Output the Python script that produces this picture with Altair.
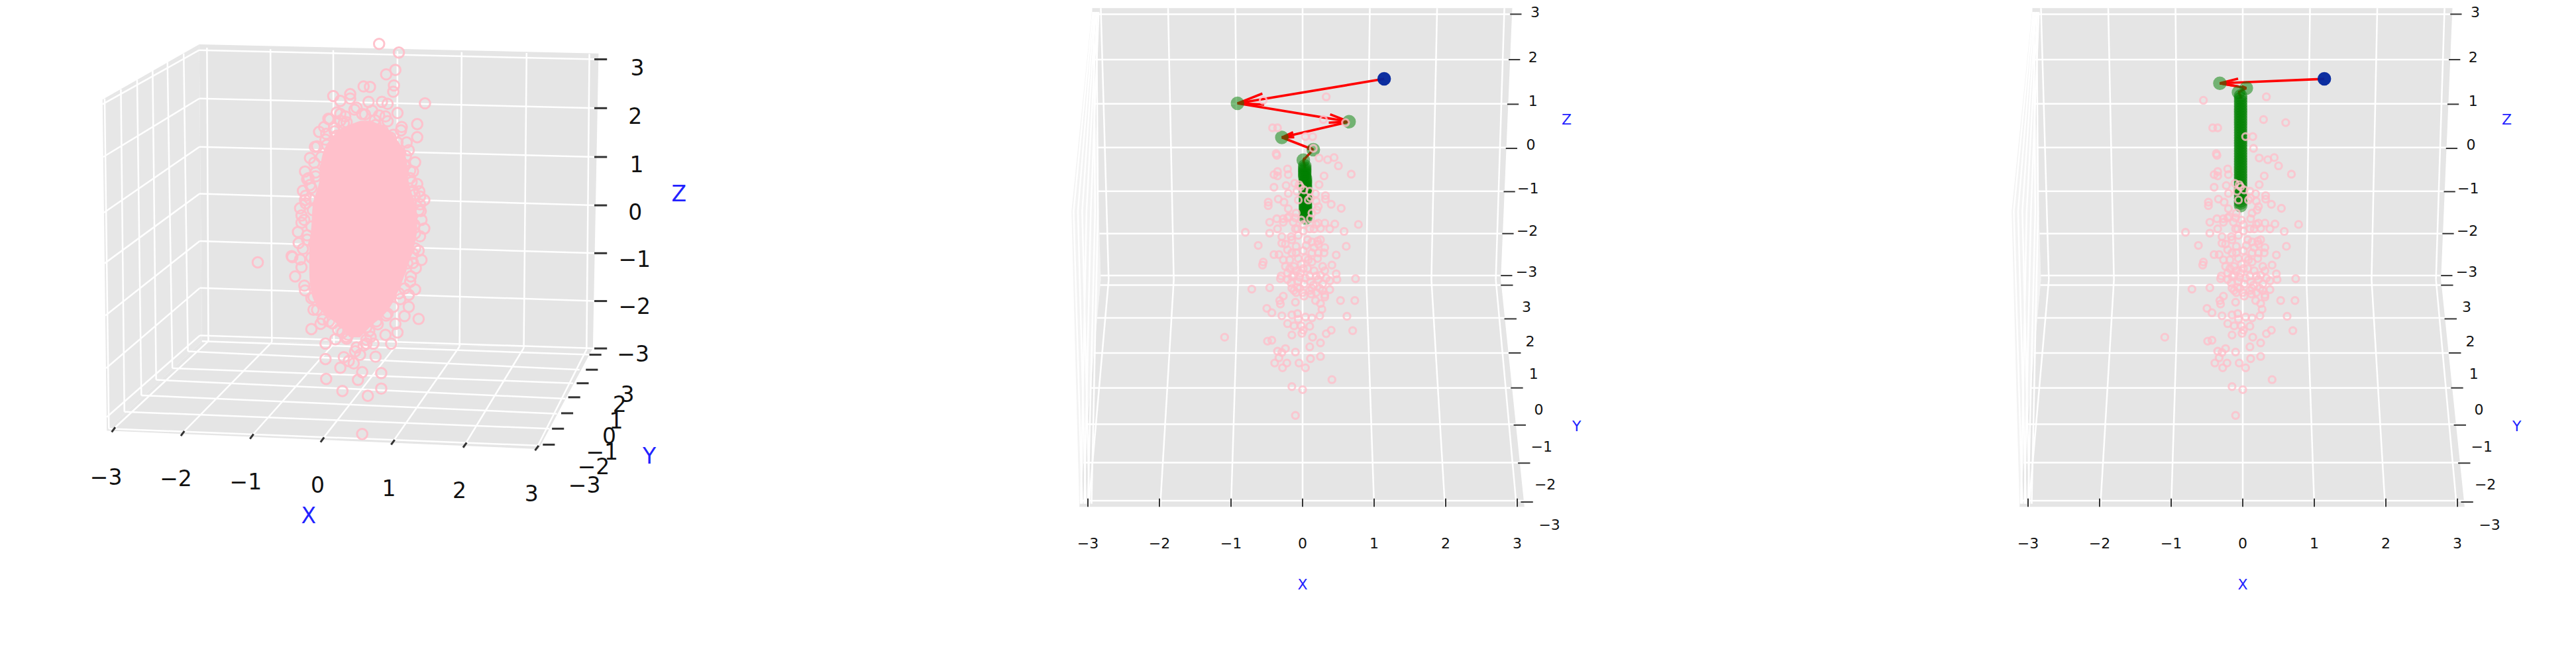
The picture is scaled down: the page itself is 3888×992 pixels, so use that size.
import altair as alt
import pandas as pd

PINK = "#FFC0CB"
# ---------- values (projected x / z axis units) ----------
rings_x = [-.55,-.42,-.35,.29,.60,.33,.04,.14,.15,-.37,-.36,.23,.35,.44,.50,.68,.30,.23,-.21,-.35,-.40,-.35,-.20,-.40,-.23,-.20,-.34,-.11,-.05,.02,-.08,-.06,.18,.32,.32,.11,.19,.10,.08,-.03,
 -1.09,-.80,-.62,-.55,-.56,-.71,-.46,-.50,-.43,-.49,-.43,-.29,-.31,-.32,-.27,-.35,-.29,-.24,-.33,-.39,-.22,-.28,-.10,-.05,.04,.11,.25,.10,.25,.14,-.15,-.01,.33,.40,.70,.62,.73,.53,.27,.24,-.10,-.15,0,.41,-.10,.74,-.31,-.46,-.46,-.35,
 .78,.58,.61,.47,.45,.38,.25,.16,.31,.21,.41,.47,.48,.38,.31,.18,.25,.12,.02,-.12,-.04,-.15,-.16,-.06,.02,.11,.22,.28,.33,.38,.24,.13,-.21,-.21,-.12,-.03,.07,.16,.25,.31,-.02,-.12,.08,-.06,-.15,-.27,-.33,-.40,-.29,-.21,-.29,-.16,-.06,.07,.13,.22,.25,.30,.22,.13,.01,-.10,.01,.10,.19,.31,-.21,-.27,-.13,-.07,
 -.15,-.07,-.06,.04,.13,-.12,-.02,.10,-.21,.01,-.48,-.48,-.26,-.20,.20,.40,.54,-.36,-.09,.13,.22,.01,
 -.15,-.24,-.09,.05,.16,-.18,-.09,.04,.13,.21,.28,-.24,-.18,-.30,-.09,.01,.10,.19,-.07,0,.10,.19,.28,.31,.15,.04,-.04,-.15,-.09,-.27,-.19,-.10,-.02,.11,.22]
rings_z = [1.08,.45,.45,.64,.57,1.16,.25,.25,-.02,-.14,-.18,-.24,-.28,-.23,-.42,-.61,-.65,-.85,-.49,-.55,-.62,-.65,-.62,-.91,-.87,-1.05,-1.18,-.82,-.85,-.97,-1.0,-1.20,-1.06,-1.10,-1.18,-1.15,-1.23,-1.0,-1.20,-.90,
 -4.34,-1.94,-2.24,-2.62,-2.69,-3.24,-3.21,-3.68,-3.78,-4.43,-4.41,-3.85,-3.58,-3.50,-3.40,-4.66,-4.69,-4.60,-4.81,-4.93,-4.93,-5.04,-4.68,-4.93,-5.04,-4.83,-4.78,-4.56,-4.47,-4.34,-4.29,-4.25,-4.26,-4.18,-4.19,-3.86,-3.50,-3.50,-3.70,-3.85,-3.54,-5.47,-5.54,-5.31,-6.13,-3.0,-3.0,-1.71,-1.96,-1.86,
 -1.76,-1.92,-2.26,-2.46,-1.75,-1.86,-1.85,-1.86,-2.29,-2.14,-2.69,-2.89,-3.02,-3.25,-3.37,-3.50,-3.57,-3.35,-3.40,-3.27,-3.22,-3.22,-3.10,-3.07,-3.12,-3.07,-3.02,-3.12,-2.99,-3.05,-3.22,-3.22,-2.87,-3.02,-2.92,-2.87,-2.77,-2.82,-2.92,-2.82,-2.67,-2.72,-2.57,-2.54,-2.41,-2.57,-2.45,-2.45,-2.19,-2.34,-2.04,-2.04,-2.01,-2.11,-2.16,-2.21,-2.11,-2.41,-2.41,-2.41,-2.36,-1.86,-1.91,-1.86,-1.76,-1.73,-1.61,-1.71,-1.71,-1.86,
 -3.83,-3.80,-3.93,-3.88,-3.90,-4.08,-4.08,-4.09,-4.03,-4.18,-1.25,-1.33,-1.25,-1.40,-1.43,-1.30,-1.39,-1.63,-1.50,-1.50,-1.35,-1.76,
 -2.11,-2.21,-2.26,-2.24,-2.29,-2.57,-2.41,-2.52,-2.62,-2.54,-2.72,-2.72,-2.77,-2.94,-2.82,-2.77,-2.94,-2.94,-3.20,-3.32,-3.27,-3.32,-3.27,-3.42,-3.15,-2.99,-2.97,-2.95,-3.32,-1.63,-1.58,-1.61,-1.66,-1.63,-1.73]

cloud_x = [.80,1.08,1.03,.90,1.01,1.00,.67,.58,.39,.15,.25,.39,.65,.84,.92,1.45,1.06,.08,.25,.56,.89,1.34,1.34,1.11,.25,-.05,.17,-.11,-.18,-.25,-.22,-.25,-.18,1.22,1.31,1.44,1.25,1.37,1.19,1.06,.06,1.28,1.39,-.30,
 -.35,-.44,-.39,-.16,-.13,.04,.04,.25,.05,.28,.50,.64,.83,.83,1.40,1.36,1.16,1.31,1.22,1.06,.97,.89,.72,.62,.75,.56,.44,.53,.18,.28,.12,-.03,-.25,-.28,-.22,-.11,1.31,1.31,1.44,1.23,1.28,1.25,1.22,1.03,.37,.34,.09,-.13,-.92,.56,-.43,
 .02,.10,.20,.32,.45,.70,.80,.92,.05,.16,.30,.75,.85,1.00,1.12,-.08,.04,.98,1.08,1.18,-.12,-.02,1.16,1.24,-.20,-.10,1.24,1.34,-.28,-.18,1.28,1.38,-.24,-.14,1.26,1.36,-.26,-.16,1.22,1.30,-.22,-.12,1.18,1.28,-.16,-.06,1.10,1.20,-.06,.06,.96,1.08,.10,.22,.80,.92,.28,.40,.62,.76,.36,.48,.58,.68,.46,.30,
 .48,.60,.34,.74,.20,.96,.12,1.10,.04,1.16,-.10,1.26,-.16,1.30,-.24,1.38,-.32,1.40,-.30,1.38,-.34,1.36,-.32,1.32,-.30,1.24,-.26,1.16,-.16,1.10,-.08,1.00,.00,.90,.14,.78,.22,.66,.34,.62]
cloud_z = [3.34,3.16,2.80,2.71,2.48,2.35,2.45,2.46,2.30,2.26,2.16,2.21,2.14,2.14,2.10,2.11,1.91,1.79,1.89,1.89,1.84,1.68,1.41,1.55,1.75,1.52,1.53,1.21,.98,.70,.54,.11,.13,1.14,.89,.11,.04,.29,1.30,1.30,1.25,.70,-.12,-.21,
 -.55,-1.05,-1.47,-2.56,-2.16,-2.86,-3.18,-3.36,-3.59,-3.84,-3.61,-3.94,-3.47,-3.79,-1.13,-2.35,-2.29,-1.74,-2.10,-2.63,-2.86,-2.68,-2.86,-2.86,-3.13,-3.45,-3.27,-3.09,-2.77,-2.63,-2.13,-2.45,-1.76,-.90,-.71,-1.15,-.89,-.58,-.48,-.51,-1.19,-1.47,-1.85,-2.45,-3.22,-2.72,-2.40,-1.90,-1.18,-4.73,-1.07,
 1.62,1.78,1.92,1.84,1.98,1.96,1.86,1.74,1.48,1.60,1.70,1.66,1.54,1.46,1.62,1.22,1.36,1.24,1.10,1.02,.88,1.00,.82,.72,.56,.68,.56,.44,.30,.42,.30,.18,.04,-.10,-.24,-.10,-.30,-.44,-.66,-.40,-.62,-.80,-.86,-1.0,-1.08,-1.28,-1.34,-1.20,-1.56,-1.74,-1.62,-1.82,-2.02,-2.30,-2.10,-2.24,-2.42,-2.56,-2.52,-2.40,-2.68,-2.94,-2.90,-2.72,-3.02,-3.14,
 2.02,1.88,1.72,1.76,1.44,1.40,1.10,1.08,.78,.84,.60,.48,.36,.22,.20,.02,-.06,-.30,-.36,-.64,-.78,-.94,-1.12,-1.30,-1.28,-1.58,-1.66,-1.72,-1.92,-1.94,-2.16,-2.10,-2.36,-2.28,-2.44,-2.46,-2.58,-2.60,-2.76,-2.78]
# solid core of the cloud in the first panel: row height, left and right edge
core_z = [1.75,1.62,1.38,.93,.48,.01,-.44,-.89,-1.36,-1.81,-2.26,-2.49,-2.73]
core_l = [.54,.31,.12,-.02,-.05,-.14,-.16,-.19,-.19,-.16,.03,.24,.38]
core_r = [.68,.88,1.04,1.19,1.22,1.31,1.34,1.29,1.18,1.06,.87,.69,.53]

start_x, start_z = 1.14, 1.57
path2_x = [-.91,.65,-.29,.15,.01]
path2_z = [1.01,.59,.23,-.05,-.29]
col2_x = [.03,.03,.03,.03,.03,.03,.03,.04,.04,.04,.04,.04,.04,.04,.04,.04,.04,.04,.04,.04,.04,.04,.04,.04,.04,.04,.04,.045,.045,.045]
col2_z = [-.42,-.47,-.51,-.55,-.59,-.63,-.67,-.71,-.75,-.79,-.83,-.87,-.91,-.95,-.99,-1.03,-1.07,-1.11,-1.15,-1.19,-1.23,-1.27,-1.31,-1.35,-1.39,-1.43,-1.47,-1.51,-1.56,-1.61]
path3_x = [-.32,.05,-.06]
path3_z = [1.47,1.36,1.26]
col3_z = [1.18,1.12,1.06,1.0,.94,.88,.82,.76,.70,.64,.58,.52,.46,.40,.34,.28,.22,.16,.10,.04,-.02,-.08,-.14,-.20,-.26,-.32,-.38,-.44,-.50,-.56,-.62,-.68,-.74,-.80,-.86,-.92,-.98,-1.04,-1.10,-1.16,-1.22,-1.27,-1.33]
col3_x = [-.03 for _ in col3_z]

p1_zt_z = [3.02,2.01,1.0,0,-.99,-1.98,-2.96]
p1_zlab_x = [4.46,4.43,4.45,4.43,4.42,4.42,4.40]
p1_zlab_z = [2.82,1.82,.82,-.16,-1.14,-2.11,-3.10]
p1_yt_x = [3.78,3.73,3.60,3.48,3.38,3.25,3.12]
p1_yt_z = [-3.09,-3.40,-3.68,-3.97,-4.30,-4.62,-4.95]
p1_ylab_x = [4.32,4.21,4.16,4.06,3.96,3.84,3.71]
p1_ylab_z = [-3.93,-4.14,-4.48,-4.80,-5.12,-5.43,-5.81]
p1_xt_x = [-2.96,-1.98,-1.0,0,1.0,2.02,3.04]
p1_xt_z = [-4.62,-4.70,-4.76,-4.83,-4.88,-4.94,-5.0]
p1_xlab_x = [-3.07,-2.08,-1.09,-.07,.94,1.94,2.96]
p1_xlab_z = [-5.64,-5.67,-5.74,-5.81,-5.87,-5.92,-5.99]
p2_zt_x = [2.90,2.88,2.86,2.84,2.81,2.79,2.77]
p2_zt_z = [3.05,2.01,.99,-.02,-1.01,-1.97,-2.93]
p2_zlab_x = [3.25,3.22,3.22,3.19,3.15,3.14,3.13]
p2_zlab_z = [3.08,2.05,1.05,.05,-.94,-1.92,-2.86]
p2_yt_x = [2.77,2.82,2.88,2.91,2.95,3.01,3.05]
p2_yt_z = [-3.15,-3.92,-4.70,-5.50,-6.35,-7.22,-8.11]
p2_ylab_x = [3.13,3.18,3.23,3.30,3.34,3.39,3.45]
p2_ylab_z = [-3.66,-4.44,-5.19,-6.01,-6.86,-7.72,-8.64]
z_labels = ["3","2","1","0","−1","−2","−3"]
y_labels = ["3","2","1","0","−1","−2","−3"]
x_labels = ["−3","−2","−1","0","1","2","3"]
x_ticks = [-3,-2,-1,0,1,2,3]
# faint grid of the side wall seen edge-on in the two right panels
wedge_top = [-2.93,-2.91,-2.89,-2.87,-2.85,-2.92,-2.88]
wedge_mid = [-3.20,-3.14,-3.08,-3.02,-2.96,-2.90,-2.86]
wedge_bot = [-3.08,-3.03,-2.98,-3.10,-3.05,-3.00,-2.95]

GREY = "#E5E5E5"; LIGHT = "#F3F3F3"; DARK = "#333333"

# ---------- helpers ----------
def rows(fill, verts):
    out = []
    for y in sorted({v[1] for v in verts}):
        xs = []
        for i, a in enumerate(verts):
            b = verts[(i + 1) % len(verts)]
            if min(a[1], b[1]) <= y <= max(a[1], b[1]):
                if a[1] == b[1]:
                    xs += [a[0], b[0]]
                else:
                    xs.append(a[0] + (y - a[1]) / (b[1] - a[1]) * (b[0] - a[0]))
        out.append(dict(fill=fill, z=y, xl=min(xs), xr=max(xs)))
    return out

def seg(a, b):
    return dict(x=a[0], z=a[1], x2=b[0], z2=b[1])

def lerp(a, b, z):
    return a[0] + (z - a[1]) / (b[1] - a[1]) * (b[0] - a[0])

def arrows(pts, kx=108.0, kz=66.0, ratio=.18, cos=.978, sin=.208):
    out = []
    for a, b in zip(pts[:-1], pts[1:]):
        out.append(seg(a, b))
        dx, dz = (a[0] - b[0]) * kx, (a[1] - b[1]) * kz
        for s in (sin, -sin):
            ex, ez = ratio * (dx * cos - dz * s), ratio * (dx * s + dz * cos)
            out.append(seg(b, (b[0] + ex / kx, b[1] + ez / kz)))
    return out

def panel(w, xdom, zdom, polys, grid, ticks, labels, tick_w, red=None, green=None, blue=None,
          rx=None, rz=None, ring_size=105, ring_w=3.1, ring_op=.8, grid_w=2.5, core=None):
    xs = alt.Scale(domain=xdom, nice=False, zero=False)
    zs = alt.Scale(domain=zdom, nice=False, zero=False)
    X = lambda f: alt.X(f, type="quantitative", scale=xs, axis=None, stack=None)
    Z = lambda f: alt.Y(f, type="quantitative", scale=zs, axis=None, stack=None)
    layers = []
    for rows_ in polys:
        layers.append(alt.Chart(pd.DataFrame(rows_)).mark_area(
            orient="horizontal", color=rows_[0]["fill"], opacity=1, interpolate="linear").encode(
            y=Z("z"), x=X("xl"), x2="xr"))
    layers += [
        alt.Chart(pd.DataFrame(grid)).mark_rule(color="white", strokeWidth=grid_w).encode(
            x=X("x"), x2="x2", y=Z("z"), y2="z2"),
        alt.Chart(pd.DataFrame(ticks)).mark_rule(color=DARK, strokeWidth=tick_w).encode(
            x=X("x"), x2="x2", y=Z("z"), y2="z2"),
        alt.Chart(pd.DataFrame(labels)).mark_text(font="DejaVu Sans", align="center", baseline="middle").encode(
            x=X("x"), y=Z("z"), text="t:N",
            color=alt.Color("c:N", scale=None), size=alt.Size("s:Q", scale=None)),
    ]
    if red:
        layers.append(alt.Chart(pd.DataFrame(red)).mark_rule(color="#FF0000", strokeWidth=3.6).encode(
            x=X("x"), x2="x2", y=Z("z"), y2="z2"))
    if green:
        layers.append(alt.Chart(pd.DataFrame(green)).mark_circle(color="#008000", opacity=.5, size=420).encode(
            x=X("x"), y=Z("z")))
    if blue:
        layers.append(alt.Chart(pd.DataFrame(blue)).mark_circle(color="#00249C", opacity=.95, size=420).encode(
            x=X("x"), y=Z("z")))
    layers.append(alt.Chart(pd.DataFrame({"x": rx, "z": rz})).mark_point(
        shape="circle", filled=False, color=PINK, size=ring_size, strokeWidth=ring_w, opacity=ring_op).encode(
        x=X("x"), y=Z("z")))
    if core:
        layers.append(alt.Chart(pd.DataFrame(core)).mark_area(
            orient="horizontal", color=PINK, opacity=1, interpolate="monotone").encode(
            y=Z("z"), x=X("xl"), x2="xr"))
    return alt.layer(*layers).properties(width=w, height=976)

# ---------- first panel ----------
polys1 = [rows("#E7E7E7", [(-3.12, 2.19), (-1.75, 3.33), (-1.71, -2.81), (-3.06, -4.66)]),
          rows(GREY, [(-1.75, 3.33), (3.91, 3.14), (3.83, -2.95), (-1.71, -2.81)]),
          rows(GREY, [(-3.06, -4.66), (3.06, -5.04), (3.83, -2.95), (-1.71, -2.81)])]
core_rows = [dict(z=z, xl=l, xr=r) for z, l, r in zip(core_z, core_l, core_r)]

back_top = [-1.64, -.74, .15, 1.06, 1.97, 2.89, 3.78]
back_top_z = [3.26, 3.23, 3.21, 3.19, 3.17, 3.15, 3.13]
back_bot = [-1.62, -.72, .16, 1.05, 1.94, 2.85, 3.74]
back_bot_z = [-2.81, -2.83, -2.86, -2.88, -2.92, -2.95, -2.98]
back_hl = [3.21, 2.21, 1.21, .24, -.74, -1.71, -2.69]
left_front_x = [-3.12, -3.11, -3.10, -3.09, -3.08, -3.07, -3.06]
left_front_z = [2.09, 1.0, -.15, -1.2, -2.28, -3.37, -4.38]
left_top = [(-1.97, 3.14), (-2.20, 2.96), (-2.41, 2.79), (-2.63, 2.60), (-2.86, 2.40), (-3.09, 2.21)]
left_bot = [(-1.91, -3.02), (-2.13, -3.37), (-2.36, -3.61), (-2.57, -3.93), (-2.81, -4.27), (-3.03, -4.62)]
floor_right = [(3.78, -3.09), (3.64, -3.40), (3.55, -3.68), (3.44, -4.0), (3.32, -4.31), (3.21, -4.62), (3.06, -4.97)]

grid1 = []
for i in range(7):
    grid1.append(seg((back_top[i], back_top_z[i]), (back_bot[i], back_bot_z[i])))
    grid1.append(seg((back_bot[i], back_bot_z[i]), (p1_xt_x[i], p1_xt_z[i])))
    grid1.append(seg((-1.75 + .01 * i / 6, back_hl[i]), (3.86, p1_zt_z[i])))
    grid1.append(seg((-1.75 + .01 * i / 6, back_hl[i]), (left_front_x[i], left_front_z[i])))
for a, b in zip(left_top, left_bot):
    grid1.append(seg(a, b))
floor_left = [(-1.71, -2.81)] + left_bot
for a, b in zip(floor_left, floor_right):
    grid1.append(seg(a, b))

ticks1, labels1 = [], []
for i in range(7):
    ticks1.append(seg((3.85, p1_zt_z[i]), (4.03, p1_zt_z[i])))
    ticks1.append(seg((p1_yt_x[i], p1_yt_z[i]), (p1_yt_x[i] + .17, p1_yt_z[i])))
    ticks1.append(seg((p1_xt_x[i] + .02, p1_xt_z[i] + .03), (p1_xt_x[i] - .03, p1_xt_z[i] - .07)))
    labels1.append(dict(x=p1_zlab_x[i], z=p1_zlab_z[i], t=z_labels[i], c="#111111", s=33))
    labels1.append(dict(x=p1_ylab_x[i], z=p1_ylab_z[i], t=y_labels[i], c="#111111", s=33))
    labels1.append(dict(x=p1_xlab_x[i], z=p1_xlab_z[i], t=x_labels[i], c="#111111", s=33))
labels1 += [dict(x=-.20, z=-6.44, t="X", c="#2222FF", s=33),
            dict(x=4.63, z=-5.20, t="Y", c="#2222FF", s=33),
            dict(x=5.05, z=.22, t="Z", c="#2222FF", s=33)]

# ---------- shared frame of the other two panels ----------
polys2 = [rows(LIGHT, [(-2.94, 3.19), (-3.23, -1.46), (-3.12, -8.22), (-2.82, -3.02)]),
          rows(GREY, [(-2.94, 3.19), (2.93, 3.19), (2.77, -3.02), (-2.82, -3.02)]),
          rows(GREY, [(-2.82, -3.02), (2.77, -3.02), (3.10, -8.22), (-3.12, -8.22)])]
top2 = [-2.82, -1.88, -.94, 0, .94, 1.88, 2.82]
mid2 = [-2.71, -1.80, -.90, 0, .89, 1.80, 2.70]
bot2 = [-2.99, -1.99, -1, 0, 1, 1.99, 2.99]
wall_h = [3.05, 2.01, 1.0, 0, -1, -1.97, -2.93]
floor_h = [-3.15, -3.90, -4.70, -5.50, -6.33, -7.21, -8.08]
grid2 = []
for t, m, b in zip(wedge_top, wedge_mid, wedge_bot):
    grid2.append(seg((t, 3.1), (m, -1.46)))
    grid2.append(seg((m, -1.46), (b, -8.15)))
for i in range(7):
    grid2.append(seg((top2[i], 3.19), (mid2[i], -3.02)))
    grid2.append(seg((mid2[i], -3.02), (bot2[i], -8.22)))
    z = wall_h[i]
    grid2.append(seg((lerp((-2.94, 3.19), (-2.82, -3.02), z), z), (lerp((2.93, 3.19), (2.77, -3.02), z), z)))
    z = floor_h[i]
    grid2.append(seg((lerp((-2.82, -3.02), (-3.12, -8.22), z), z), (lerp((2.77, -3.02), (3.10, -8.22), z), z)))

ticks2, labels2 = [], []
for i in range(7):
    ticks2.append(seg((p2_zt_x[i], p2_zt_z[i]), (p2_zt_x[i] + .16, p2_zt_z[i])))
    ticks2.append(seg((p2_yt_x[i], p2_yt_z[i]), (p2_yt_x[i] + .17, p2_yt_z[i])))
    ticks2.append(seg((x_ticks[i], -8.03), (x_ticks[i], -8.22)))
    labels2.append(dict(x=p2_zlab_x[i], z=p2_zlab_z[i], t=z_labels[i], c="#111111", s=22))
    labels2.append(dict(x=p2_ylab_x[i], z=p2_ylab_z[i], t=y_labels[i], c="#111111", s=22))
    labels2.append(dict(x=x_ticks[i], z=-9.06, t=x_labels[i], c="#111111", s=22))
labels2 += [dict(x=0, z=-10.01, t="X", c="#2222FF", s=22),
            dict(x=3.83, z=-6.39, t="Y", c="#2222FF", s=22),
            dict(x=3.69, z=.63, t="Z", c="#2222FF", s=22)]

# ---------- the two runs ----------
pts2 = [(start_x, start_z)] + list(zip(path2_x, path2_z)) + [(col2_x[0], col2_z[0]), (col2_x[1], col2_z[1])]
pts3 = [(start_x, start_z)] + list(zip(path3_x, path3_z)) + [(col3_x[0], col3_z[0]), (col3_x[1], col3_z[1])]
green2 = [dict(x=a, z=b) for a, b in zip(path2_x + col2_x, path2_z + col2_z)]
green3 = [dict(x=a, z=b) for a, b in zip(path3_x + col3_x, path3_z + col3_z)]
blue = [dict(x=start_x, z=start_z)]

p1 = panel(1492, [-4.498, 9.512], [-9.26, 4.11], polys1, grid1, ticks1, labels1, 3,
           rx=cloud_x, rz=cloud_z, ring_size=243, ring_w=3, ring_op=.95, core=core_rows)
p2 = panel(1419, [-4.315, 8.824], [-11.565, 3.223], polys2, grid2, ticks2, labels2, 2,
           red=arrows(pts2), green=green2, blue=blue, rx=rings_x, rz=rings_z)
p3 = panel(961, [-4.315, 4.583], [-11.565, 3.223], polys2, grid2, ticks2, labels2, 2,
           red=arrows(pts3), green=green3, blue=blue, rx=rings_x, rz=rings_z)

chart = alt.hconcat(p1, p2, p3, spacing=0, bounds="flush").properties(
    padding=0, background="white").configure_view(strokeWidth=0)
chart.save("out.html", embed_options={"renderer": "svg", "actions": False})
